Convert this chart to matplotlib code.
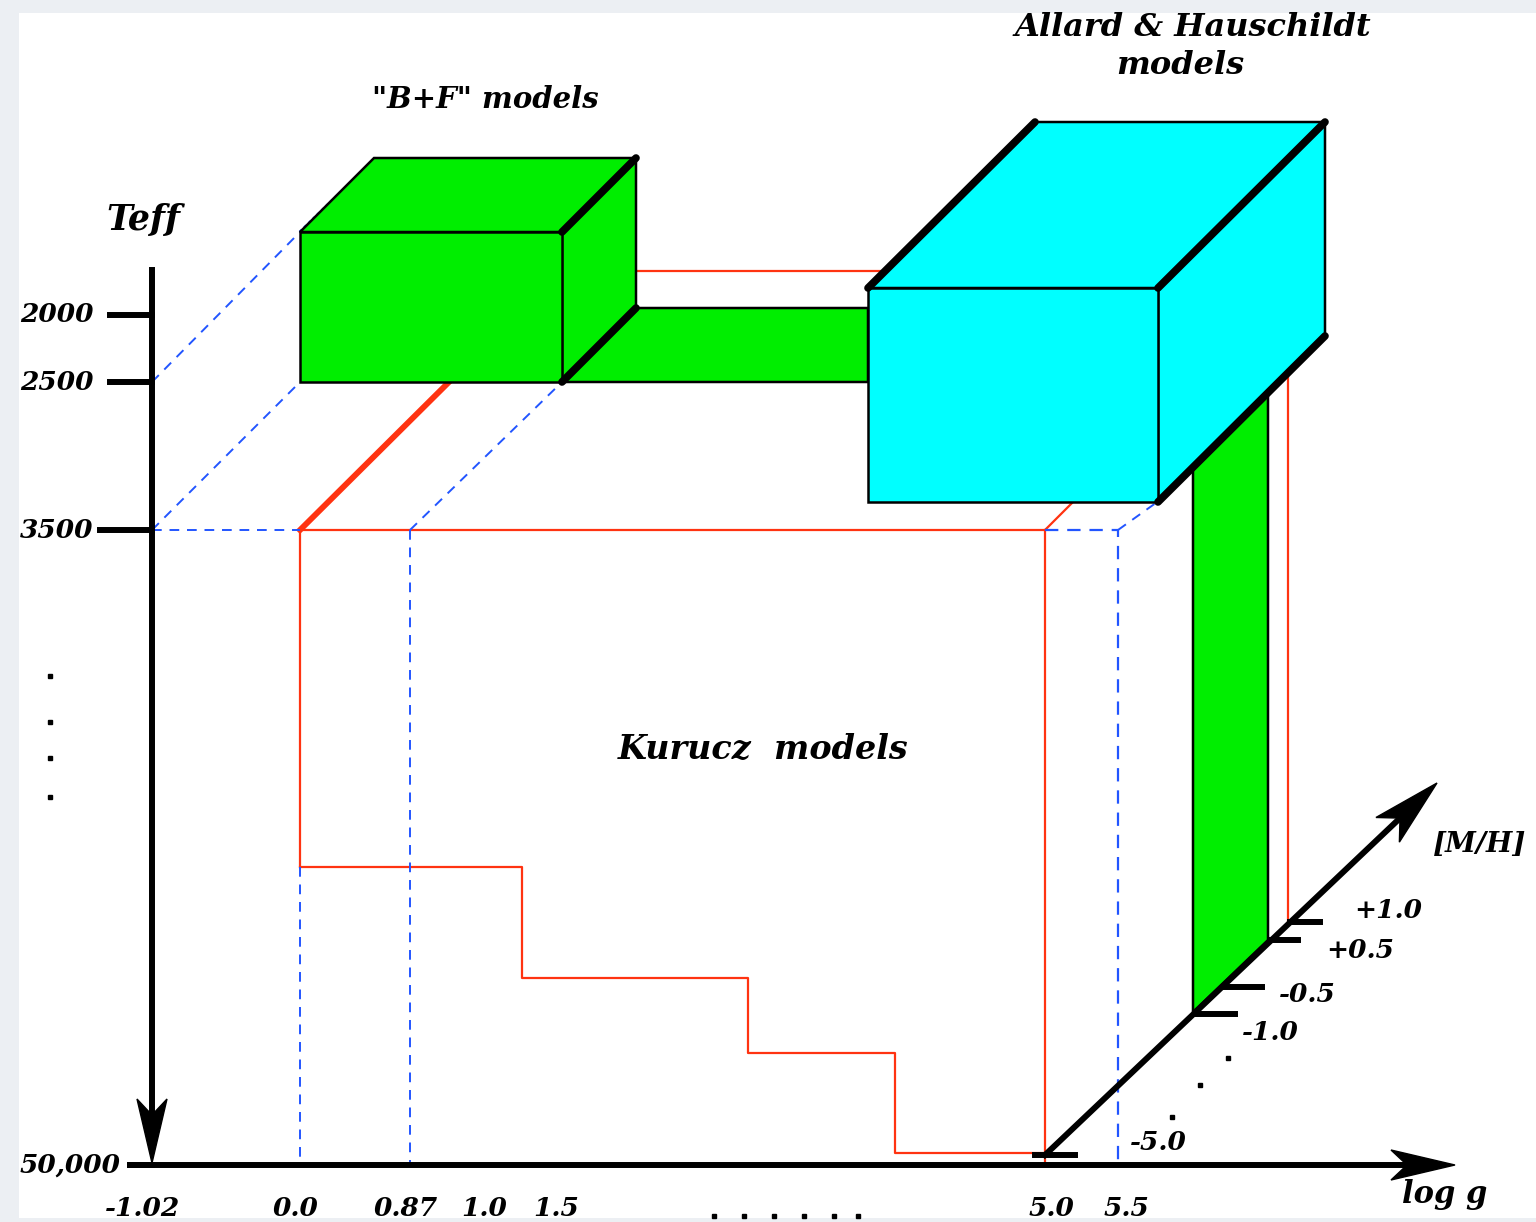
import matplotlib.pyplot as plt
from matplotlib.patches import Polygon, Rectangle
import numpy as np

# canvas in pixel units of the reference picture
W, H = 1536, 1222

# Teff axis (vertical, pointing down)
teff_x = 152
teff_top, teff_bottom = 270, 1165
teff_labels = ["2000", "2500", "3500", "50,000"]
teff_tick_y = [315, 382, 530, 1165]
teff_tick_x0 = [110, 110, 100, 130]

# log g axis (horizontal)
logg_y = 1165
logg_x0, logg_x1 = 130, 1455
logg_labels = ["-1.02", "0.0", "0.87", "1.0", "1.5", "5.0", "5.5"]
logg_label_x = [143, 296, 406, 484, 556, 1051, 1126]

# [M/H] axis (diagonal)
mh_start = (1045, 1155)
mh_end = (1437, 783)
mh_labels = ["+1.0", "+0.5", "-0.5", "-1.0", "-5.0"]
mh_tick_pts = [(1290, 922), (1270, 940), (1225, 987), (1195, 1014), (1035, 1155)]
mh_tick_len = [30, 28, 37, 40, 40]
mh_label_pos = [(1388, 910), (1360, 950), (1307, 994), (1270, 1033), (1158, 1143)]

# Kurucz grid outline (red) and staircase
kurucz_left, kurucz_right, kurucz_top = 300, 1045, 530
stair_x = [300, 522, 522, 748, 748, 895, 895, 1045]
stair_y = [867, 867, 978, 978, 1053, 1053, 1153, 1153]

# boxes: front face (x0, y0, x1, y1) and depth offset (dx, dy)
bf_front = (300, 232, 562, 382)
bf_depth = (74, -74)
ah_front = (868, 288, 1158, 502)
ah_depth = (167, -166)
bf_bar_right = 868           # green slab joining the two boxes
mh_bar = (1193, 1268)        # green slab along [M/H]

GREEN = "#00ee00"
CYAN = "#00ffff"
RED = "#ff3311"
BLUE = "#2255ff"
FONT = dict(family="DejaVu Serif", weight="bold", style="italic", color="black")

fig = plt.figure(figsize=(W / 100, H / 100), dpi=100, facecolor="#eceff3")
ax = fig.add_axes([0, 0, 1, 1])
ax.set_xlim(0, W)
ax.set_ylim(H, 0)
ax.axis("off")
ax.add_patch(Rectangle((19, 13), W - 19, 1205, facecolor="white", edgecolor="none", zorder=0))

dash = dict(color=BLUE, lw=1.4, linestyle=(0, (5, 4)), zorder=2)
thin_red = dict(color=RED, lw=1.6, zorder=2)

# --- Kurucz (red) ---
ax.plot([kurucz_left, kurucz_left], [kurucz_top, stair_y[0]], **thin_red)
ax.plot([kurucz_left, kurucz_right], [kurucz_top, kurucz_top], **thin_red)
ax.plot([kurucz_right, kurucz_right], [kurucz_top, logg_y], **thin_red)
ax.plot(stair_x, stair_y, **thin_red)
ax.plot([kurucz_left, 450], [kurucz_top, 381], color=RED, lw=4.2, zorder=2)
ax.plot([kurucz_right, 1075], [kurucz_top, 500], **thin_red)
ax.plot([636, 880], [271, 271], **thin_red)
ax.plot([1288, 1288], [340, 922], **thin_red)

# --- blue dashed projections ---
ax.plot([teff_x, kurucz_left], [530, 530], **dash)
ax.plot([teff_x, 300], [382, 232], **dash)
ax.plot([300, 376], [232, 158], color=BLUE, lw=2.2, linestyle=(0, (1, 1)), zorder=4)
ax.plot([teff_x, 300], [530, 382], **dash)
ax.plot([410, 562], [530, 382], **dash)
ax.plot([300, 300], [867, 1160], **dash)
ax.plot([410, 410], [530, 1165], **dash)
ax.plot([kurucz_right, 1118, 1118], [530, 530, 1160], color=BLUE, lw=1.6,
        linestyle=(0, (6, 4)), zorder=2)
ax.plot([1118, 1160], [530, 500], **dash)


def box(front, depth, color, thick, z):
    x0, y0, x1, y1 = front
    dx, dy = depth
    faces = [
        [(x0, y0), (x0 + dx, y0 + dy), (x1 + dx, y0 + dy), (x1, y0)],
        [(x1, y0), (x1 + dx, y0 + dy), (x1 + dx, y1 + dy), (x1, y1)],
        [(x0, y0), (x1, y0), (x1, y1), (x0, y1)],
    ]
    for f in faces:
        ax.add_patch(Polygon(f, closed=True, facecolor=color, edgecolor="black",
                             lw=1.8, zorder=z))
    for (a, b) in thick:
        ax.plot([a[0], b[0]], [a[1], b[1]], color="black", lw=5.5,
                solid_capstyle="round", zorder=z + 0.5)
    return faces


# --- green slab between the boxes ---
x0, y0, x1, y1 = bf_front
dx, dy = bf_depth
ax.add_patch(Polygon([(x1, y1), (x1 + dx, y1 + dy), (bf_bar_right, y1 + dy),
                      (bf_bar_right, y1)], closed=True, facecolor=GREEN,
                     edgecolor="black", lw=1.8, zorder=3))

# --- B+F box ---
box(bf_front, bf_depth, GREEN,
    [((x1, y0), (x1 + dx, y0 + dy)), ((x1, y1), (x1 + dx, y1 + dy))], 4)

# --- green slab along [M/H] ---
bx0, bx1 = mh_bar
ax.add_patch(Polygon([(bx0, 470), (bx1, 395), (bx1, 940), (bx0, 1012)], closed=True,
                     facecolor=GREEN, edgecolor="black", lw=1.8, zorder=5))

# --- Allard & Hauschildt box ---
ax0, ay0, ax1, ay1 = ah_front
adx, ady = ah_depth
box(ah_front, ah_depth, CYAN,
    [((ax0, ay0), (ax0 + adx, ay0 + ady)), ((ax1, ay0), (ax1 + adx, ay0 + ady)),
     ((ax1, ay1), (ax1 + adx, ay1 + ady))], 6)


def arrowhead(tip, direction, length=64, width=30):
    d = np.array(direction, float)
    d /= np.hypot(*d)
    n = np.array([-d[1], d[0]])
    tip = np.array(tip, float)
    base = tip - d * length
    notch = tip - d * length * 0.75
    pts = [tip, base + n * width / 2, notch, base - n * width / 2]
    ax.add_patch(Polygon(pts, closed=True, facecolor="black", edgecolor="black",
                         lw=1, zorder=9))


# --- Teff axis ---
ax.plot([teff_x, teff_x], [teff_top, teff_bottom - 20], color="black", lw=4.3, zorder=8)
arrowhead((teff_x, teff_bottom - 2), (0, 1))
for lab, ty, tx0 in zip(teff_labels, teff_tick_y, teff_tick_x0):
    ax.plot([tx0, teff_x], [ty, ty], color="black", lw=4.3, zorder=8)
    ax.text(20, ty, lab, ha="left", va="center", fontsize=19, **FONT)
ax.text(143, 220, "Teff", ha="center", va="center", fontsize=25, **FONT)
for yy in [676, 722, 758, 797]:
    ax.plot(50, yy, marker="s", ms=3.5, color="black", zorder=8)

# --- log g axis ---
ax.plot([logg_x0, logg_x1 - 30], [logg_y, logg_y], color="black", lw=4.3, zorder=8)
arrowhead((logg_x1, logg_y), (1, 0))
for lab, lx in zip(logg_labels, logg_label_x):
    ax.text(lx, 1208, lab, ha="center", va="center", fontsize=19, **FONT)
ax.text(1445, 1195, "log g", ha="center", va="center", fontsize=22, **FONT)
for xx in [714, 744, 774, 804, 834, 858]:
    ax.plot(xx, 1216, marker="s", ms=3.5, color="black", zorder=8)

# --- [M/H] axis ---
d = np.array(mh_end) - np.array(mh_start)
ax.plot([mh_start[0], mh_end[0] - d[0] * 0.08], [mh_start[1], mh_end[1] - d[1] * 0.08],
        color="black", lw=4.3, zorder=8)
arrowhead(mh_end, d, length=68, width=34)
for (px, py), tl in zip(mh_tick_pts, mh_tick_len):
    ax.plot([px, px + tl], [py, py], color="black", lw=4.3, zorder=8)
for lab, (lx, ly) in zip(mh_labels, mh_label_pos):
    ax.text(lx, ly, lab, ha="center", va="center", fontsize=19, **FONT)
ax.text(1480, 845, "[M/H]", ha="center", va="center", fontsize=20, **FONT)
for (xx, yy) in [(1228, 1058), (1200, 1085), (1172, 1117)]:
    ax.plot(xx, yy, marker="s", ms=3.5, color="black", zorder=8)

# --- titles ---
ax.text(485, 100, '"B+F" models', ha="center", va="center", fontsize=21, **FONT)
ax.text(1193, 28, "Allard & Hauschildt", ha="center", va="center", fontsize=23, **FONT)
ax.text(1180, 66, "models", ha="center", va="center", fontsize=23, **FONT)
ax.text(763, 750, "Kurucz  models", ha="center", va="center", fontsize=24, **FONT)

fig.savefig("out.png", dpi=100, facecolor=fig.get_facecolor())
